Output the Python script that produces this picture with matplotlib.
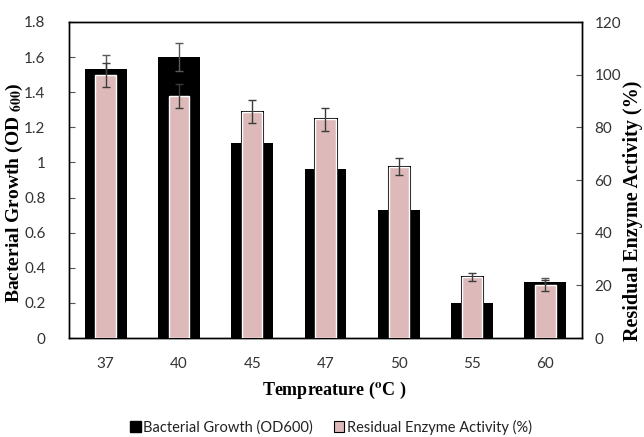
import matplotlib
matplotlib.use("Agg")
import matplotlib.pyplot as plt
from matplotlib.patches import Patch
import numpy as np

temps = ['37', '40', '45', '47', '50', '55', '60']
growth = [1.53, 1.60, 1.11, 0.96, 0.73, 0.20, 0.32]
growth_err = [0.08, 0.08, 0.06, 0.06, 0.05, 0.02, 0.02]
activity = [100, 92, 86, 83, 65, 23, 20]
activity_err = [4.5, 4.6, 4.4, 4.3, 3.2, 1.5, 2.0]

plt.rcParams['mathtext.fontset'] = 'stix'
sans = ['Lato', 'DejaVu Sans']
serif = ['Liberation Serif', 'DejaVu Serif']

fig = plt.figure(figsize=(6.44, 4.37), dpi=100)
ax1 = fig.add_axes([69/644, 1-338/437, (582-69)/644, (338-22)/437])
ax2 = ax1.twinx()

x = np.arange(len(temps))
pink = '#DDB9B9'
errc = '#3c3c3c'

ax1.bar(x, growth, width=0.57, color='black', zorder=2)
ax1.errorbar(x, growth, yerr=growth_err, fmt='none', ecolor='#5a5a5a',
             elinewidth=1, capsize=2.8, capthick=1, zorder=3)

ax2.bar(x, activity, width=0.28, color=pink, edgecolor='black', linewidth=2.2, zorder=2)
ax2.bar(x, activity, width=0.28, color=pink, edgecolor='white', linewidth=1.0, zorder=3)
ax2.errorbar(x, activity, yerr=activity_err, fmt='none', ecolor=errc,
             elinewidth=1, capsize=2.8, capthick=1, zorder=4)

ax1.set_xlim(-0.5, len(temps) - 0.5)
ax1.set_ylim(0, 1.8)
ax2.set_ylim(0, 120)
ax1.set_yticks(np.arange(0, 1.81, 0.2))
ax1.set_yticklabels(['0', '0.2', '0.4', '0.6', '0.8', '1', '1.2', '1.4', '1.6', '1.8'])
ax2.set_yticks(np.arange(0, 121, 20))
ax1.set_xticks(x)
ax1.set_xticklabels(temps)

for ax in (ax1, ax2):
    for s in ax.spines.values():
        s.set_color('black')
        s.set_linewidth(1.0)

ax1.tick_params(axis='x', length=0, pad=14, labelsize=11, labelcolor='#333333')
ax1.tick_params(axis='y', direction='in', length=4, color='#555555', pad=17,
                labelsize=11, labelcolor='#333333')
ax2.tick_params(axis='y', direction='in', length=4, color='#555555', pad=9,
                labelsize=11, labelcolor='#333333')
for lab in ax1.get_xticklabels() + ax1.get_yticklabels() + ax2.get_yticklabels():
    lab.set_family(sans)

fig.text(14/644, 1-193/437, 'Bacterial Growth (OD $_{\\mathbf{600}}$)', rotation=90,
         ha='center', va='center', family=serif, fontweight='bold', fontsize=14)
fig.text(633/644, 1-211/437, 'Residual Enzyme Activity (%)', rotation=90,
         ha='center', va='center', family=serif, fontweight='bold', fontsize=14.5)
fig.text(334/644, 1-390/437, 'Tempreature ($^{\\mathbf{o}}$C )',
         ha='center', va='center', family=serif, fontweight='bold', fontsize=13)

handles = [Patch(facecolor='black', edgecolor='black', label='Bacterial Growth (OD600)'),
           Patch(facecolor=pink, edgecolor='black', linewidth=0.8, label='Residual Enzyme Activity (%)')]
fig.legend(handles=handles, loc='center', bbox_to_anchor=(331/644, 1-427/437), ncol=2,
           frameon=False, prop={'family': sans, 'size': 10.5}, handlelength=0.7,
           handleheight=0.7, handletextpad=0.2, columnspacing=1.4, labelcolor='#222222')

fig.savefig('out.png', dpi=100)
